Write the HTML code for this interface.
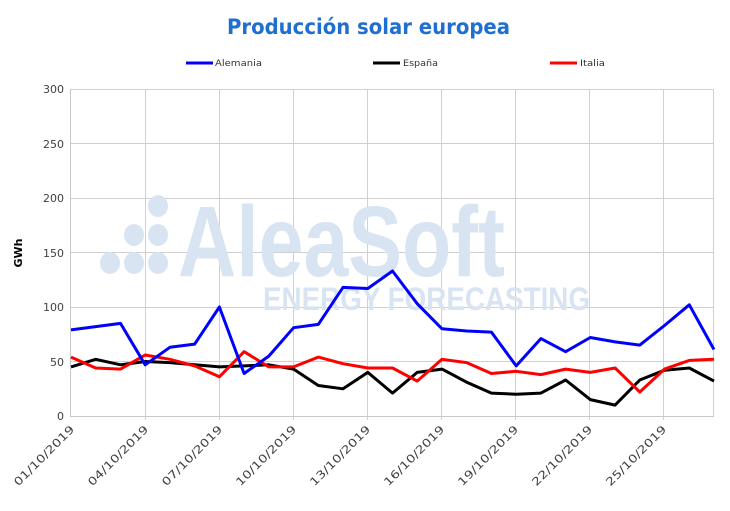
<!DOCTYPE html>
<html><head><meta charset="utf-8"><style>body{margin:0;background:#fff}</style></head><body>
<svg width="730" height="506" xmlns="http://www.w3.org/2000/svg" font-family="DejaVu Sans, sans-serif">
<rect width="730" height="506" fill="#fff"/>
<text x="227" y="34" font-size="21" font-weight="bold" fill="#1f6fd1" textLength="283" lengthAdjust="spacingAndGlyphs">Producción solar europea</text>
<g font-size="9" fill="#333">
<line x1="186" y1="63" x2="213" y2="63" stroke="#0000ff" stroke-width="3"/><text x="215" y="66" textLength="47" lengthAdjust="spacingAndGlyphs">Alemania</text>
<line x1="373" y1="63" x2="400" y2="63" stroke="#000" stroke-width="3"/><text x="403" y="66" textLength="35" lengthAdjust="spacingAndGlyphs">España</text>
<line x1="550" y1="63" x2="577" y2="63" stroke="#ff0000" stroke-width="3"/><text x="580" y="66" textLength="25" lengthAdjust="spacingAndGlyphs">Italia</text>
</g>
<g stroke="#d0d0d0" stroke-width="1">
<line x1="71" y1="89.5" x2="714" y2="89.5"/><line x1="71" y1="143.5" x2="714" y2="143.5"/><line x1="71" y1="198.5" x2="714" y2="198.5"/><line x1="71" y1="252.5" x2="714" y2="252.5"/><line x1="71" y1="307.5" x2="714" y2="307.5"/><line x1="71" y1="361.5" x2="714" y2="361.5"/>
<line x1="145.5" y1="89" x2="145.5" y2="420"/><line x1="219.5" y1="89" x2="219.5" y2="420"/><line x1="293.5" y1="89" x2="293.5" y2="420"/><line x1="367.5" y1="89" x2="367.5" y2="420"/><line x1="441.5" y1="89" x2="441.5" y2="420"/><line x1="515.5" y1="89" x2="515.5" y2="420"/><line x1="589.5" y1="89" x2="589.5" y2="420"/><line x1="663.5" y1="89" x2="663.5" y2="420"/><line x1="713.5" y1="89" x2="713.5" y2="416"/>
</g>
<g fill="#d9e4f2">
<ellipse cx="110" cy="263" rx="10" ry="11"/><ellipse cx="134" cy="263" rx="10" ry="11"/><ellipse cx="158" cy="263" rx="10" ry="11"/>
<ellipse cx="134" cy="235" rx="10" ry="11"/><ellipse cx="158" cy="235" rx="10" ry="11"/><ellipse cx="158" cy="206" rx="10" ry="11"/>
<text x="178" y="276" font-family="Liberation Sans, sans-serif" font-size="100" font-weight="bold" textLength="327" lengthAdjust="spacingAndGlyphs">AleaSoft</text>
<text x="263" y="310" font-family="Liberation Sans, sans-serif" font-size="32" font-weight="bold" textLength="327" lengthAdjust="spacingAndGlyphs">ENERGY FORECASTING</text>
</g>
<line x1="70.5" y1="89" x2="70.5" y2="416" stroke="#c8c8c8"/>
<line x1="70" y1="416.5" x2="714" y2="416.5" stroke="#c8c8c8"/>
<g font-size="11" fill="#404040" text-anchor="end">
<text x="64" y="93">300</text><text x="64" y="148">250</text><text x="64" y="202">200</text><text x="64" y="257">150</text><text x="64" y="311">100</text><text x="64" y="366">50</text><text x="64" y="420">0</text>
</g>
<text transform="translate(22,253) rotate(-90)" font-size="11" font-weight="bold" text-anchor="middle">GWh</text>
<g font-size="11" fill="#404040" text-anchor="end">
<text transform="translate(75,430) rotate(-45)" textLength="80" lengthAdjust="spacingAndGlyphs">01/10/2019</text>
<text transform="translate(149,430) rotate(-45)" textLength="80" lengthAdjust="spacingAndGlyphs">04/10/2019</text>
<text transform="translate(223,430) rotate(-45)" textLength="80" lengthAdjust="spacingAndGlyphs">07/10/2019</text>
<text transform="translate(297,430) rotate(-45)" textLength="80" lengthAdjust="spacingAndGlyphs">10/10/2019</text>
<text transform="translate(371,430) rotate(-45)" textLength="80" lengthAdjust="spacingAndGlyphs">13/10/2019</text>
<text transform="translate(445,430) rotate(-45)" textLength="80" lengthAdjust="spacingAndGlyphs">16/10/2019</text>
<text transform="translate(519,430) rotate(-45)" textLength="80" lengthAdjust="spacingAndGlyphs">19/10/2019</text>
<text transform="translate(593,430) rotate(-45)" textLength="80" lengthAdjust="spacingAndGlyphs">22/10/2019</text>
<text transform="translate(667,430) rotate(-45)" textLength="80" lengthAdjust="spacingAndGlyphs">25/10/2019</text>
</g>
<g fill="none" stroke-width="3" stroke-linejoin="round">
<polyline id="es" stroke="#000" points=""/>
<polyline id="it" stroke="#ff0000" points=""/>
<polyline id="de" stroke="#0000ff" points=""/>
</g>
<script>
var d={de:[79,82,85,47,63,66,100,39,55,81,84,118,117,133,103,80,78,77,46,71,59,72,68,65,83,102,61],
es:[45,52,47,50,49,47,45,46,47,43,28,25,40,21,40,43,31,21,20,21,33,15,10,33,42,44,32],
it:[54,44,43,56,52,46,36,59,45,45,54,48,44,44,32,52,49,39,41,38,43,40,44,22,43,51,52]};
for(var k in d){var p=d[k].map(function(v,i){return (71+i*643/26).toFixed(1)+','+(416-v*1.09).toFixed(1)}).join(' ');document.getElementById(k).setAttribute('points',p);}
</script>
</svg>
</body></html>
